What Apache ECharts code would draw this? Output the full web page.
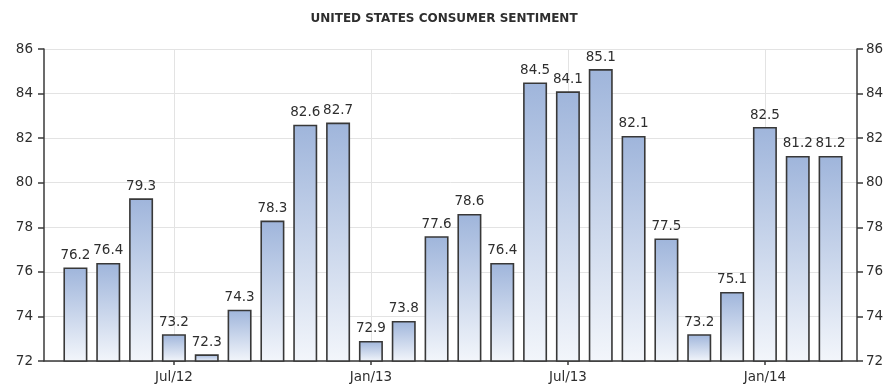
<!DOCTYPE html>
<html>
<head>
<meta charset="utf-8">
<script src="https://cdn.jsdelivr.net/npm/echarts@6/dist/echarts.min.js"></script>
<style>
  html, body { margin: 0; padding: 0; background: #fff; }
  #chart { width: 888px; height: 387px; }
</style>
</head>
<body>
<div id="chart"></div>
<script>
// Monthly University of Michigan consumer sentiment, Apr 2012 – Mar 2014
const months = [
  'Apr/12', 'May/12', 'Jun/12', 'Jul/12', 'Aug/12', 'Sep/12',
  'Oct/12', 'Nov/12', 'Dec/12', 'Jan/13', 'Feb/13', 'Mar/13',
  'Apr/13', 'May/13', 'Jun/13', 'Jul/13', 'Aug/13', 'Sep/13',
  'Oct/13', 'Nov/13', 'Dec/13', 'Jan/14', 'Feb/14', 'Mar/14'
];
const sentiment = [
  76.2, 76.4, 79.3, 73.2, 72.3, 74.3,
  78.3, 82.6, 82.7, 72.9, 73.8, 77.6,
  78.6, 76.4, 84.5, 84.1, 85.1, 82.1,
  77.5, 73.2, 75.1, 82.5, 81.2, 81.2
];
// Months that get a tick, a label and a vertical grid line
const labelledMonths = ['Jul/12', 'Jan/13', 'Jul/13', 'Jan/14'];
const yMin = 72, yMax = 86, yStep = 2;

const FONT = 'DejaVu Sans';
const TEXT = '#2e2e2e';
const AXIS = '#3a3a3a';
const GRIDLINE = '#e3e3e3';

const isLabelled = (idx, value) => labelledMonths.includes(value);

const chart = echarts.init(document.getElementById('chart'), null, { renderer: 'canvas' });

chart.setOption({
  animation: false,
  backgroundColor: '#ffffff',
  title: {
    text: 'UNITED STATES CONSUMER SENTIMENT',
    left: 'center',
    top: 8,
    textStyle: { fontFamily: FONT, fontSize: 12, fontWeight: 'bold', color: TEXT }
  },
  grid: [
    // frame: both value axes and the baseline
    { left: 44, right: 31, top: 49, bottom: 26 },
    // plotting band for the bars
    { left: 59, right: 41, top: 49, bottom: 26 }
  ],
  xAxis: [
    {
      gridIndex: 0, type: 'value', min: 0, max: 1,
      axisLine: { show: true, onZero: false, lineStyle: { color: AXIS, width: 1.5 } },
      axisTick: { show: false }, axisLabel: { show: false }, splitLine: { show: false }
    },
    {
      gridIndex: 1, type: 'category', data: months, boundaryGap: true,
      axisLine: { show: false },
      axisTick: { show: true, interval: isLabelled, alignWithLabel: true, length: 4,
                  lineStyle: { color: AXIS, width: 1.5 } },
      axisLabel: { interval: isLabelled, color: TEXT, fontFamily: FONT, fontSize: 13.5, margin: 9 },
      splitLine: { show: true, interval: isLabelled, alignWithLabel: true,
                   lineStyle: { color: GRIDLINE, width: 1 } }
    }
  ],
  yAxis: [
    {
      gridIndex: 0, type: 'value', position: 'left', min: yMin, max: yMax, interval: yStep,
      axisLine: { show: true, lineStyle: { color: AXIS, width: 1.5 } },
      axisTick: { show: true, length: 6, lineStyle: { color: AXIS, width: 1.5 } },
      axisLabel: { color: TEXT, fontFamily: FONT, fontSize: 13.5, margin: 11 },
      splitLine: { show: true, lineStyle: { color: GRIDLINE, width: 1 } }
    },
    {
      gridIndex: 0, type: 'value', position: 'right', min: yMin, max: yMax, interval: yStep,
      axisLine: { show: true, lineStyle: { color: AXIS, width: 1.5 } },
      axisTick: { show: true, length: 6, lineStyle: { color: AXIS, width: 1.5 } },
      axisLabel: { color: TEXT, fontFamily: FONT, fontSize: 13.5, margin: 9 },
      splitLine: { show: false }
    },
    {
      gridIndex: 1, type: 'value', min: yMin, max: yMax, show: false
    }
  ],
  series: [
    {
      type: 'bar',
      xAxisIndex: 1,
      yAxisIndex: 2,
      data: sentiment,
      barWidth: 24,
      itemStyle: {
        color: new echarts.graphic.LinearGradient(0, 0, 0, 1, [
          { offset: 0, color: '#9fb5db' },
          { offset: 1, color: '#f3f6fb' }
        ]),
        borderColor: '#383838',
        borderWidth: 1.6
      },
      label: {
        show: true,
        position: 'top',
        distance: 5,
        color: TEXT,
        fontFamily: FONT,
        fontSize: 13.5,
        formatter: p => p.value.toFixed(1)
      }
    }
  ]
});
</script>
</body>
</html>
